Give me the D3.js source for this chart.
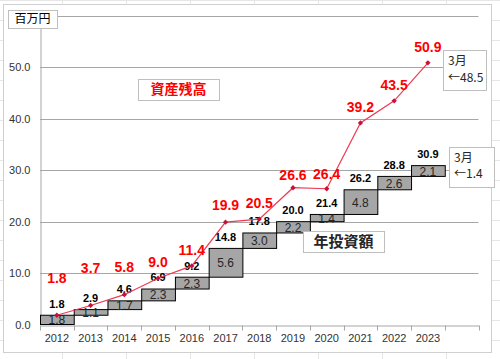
<!DOCTYPE html>
<html>
<head>
<meta charset="utf-8">
<script src="https://cdn.jsdelivr.net/npm/d3@7"></script>
<style>
  body { margin: 0; background: #fff; }
  svg { display: block; font-family: 'Liberation Sans', Arial, 'Noto Sans CJK JP', sans-serif; }
</style>
</head>
<body>
<svg id="chart" width="500" height="359"></svg>
<script>
'use strict';

// data
var years = ['2012', '2013', '2014', '2015', '2016', '2017', '2018', '2019', '2020', '2021', '2022', '2023'];
var annualInvest = [1.8, 1.1, 1.7, 2.3, 2.3, 5.6, 3.0, 2.2, 1.4, 4.8, 2.6, 2.1];
var investTotal = [1.8, 2.9, 4.6, 6.9, 9.2, 14.8, 17.8, 20.0, 21.4, 26.2, 28.8, 30.9];
var assetBalance = [1.8, 3.7, 5.8, 9.0, 11.4, 19.9, 20.5, 26.6, 26.4, 39.2, 43.5, 50.9];
var yTicks = [0, 10, 20, 30, 40, 50];
var unitLabel = '百万円';
var balanceName = '資産残高';
var investName = '年投資額';
var balanceNote = ['3月', '←48.5'];
var investNote = ['3月', '←1.4'];

var svg = d3.select('#chart');

// faint worksheet cells behind the chart
var cells = svg.append('g').style('stroke', '#e6e6e6').style('stroke-width', 1)
    .style('shape-rendering', 'crispEdges');
d3.range(-2, 500, 64).forEach(function (cx) {
    cells.append('line').attr('x1', cx + 0.5).attr('x2', cx + 0.5).attr('y1', 0).attr('y2', 359);
});
d3.range(0, 359, 20).forEach(function (cy) {
    cells.append('line').attr('x1', 0).attr('x2', 500).attr('y1', cy + 0.5).attr('y2', cy + 0.5);
});

// chart area
svg.append('rect')
    .attr('x', 3.5).attr('y', 4.5)
    .attr('width', 488).attr('height', 348)
    .style('fill', '#fff')
    .style('stroke', '#d0d0d0');

var LEFT = 40, RIGHT = 478.5, TOP = 16, BOTTOM = 324.5;

// scales: one spare empty slot after the last year
var slots = years.concat(['']);
var x = d3.scaleBand().domain(slots).range([LEFT, RIGHT]).padding(0);
var y = d3.scaleLinear().domain([0, 60]).range([BOTTOM, TOP]);
var bw = x.bandwidth();
function cx(d, i) { return x(years[i]) + bw / 2; }

// gridlines
svg.append('g')
    .selectAll('line')
    .data(d3.range(10, 61, 10))
    .enter().append('line')
    .attr('x1', LEFT).attr('x2', RIGHT)
    .attr('y1', function (d) { return Math.round(y(d)) + 0.5; })
    .attr('y2', function (d) { return Math.round(y(d)) + 0.5; })
    .style('stroke', '#a6a6a6')
    .style('stroke-width', 1);

// y axis
var yAxis = d3.axisLeft(y)
    .tickValues(yTicks)
    .tickSize(0)
    .tickPadding(10)
    .tickFormat(d3.format('.1f'));
var yAxisEl = svg.append('g')
    .attr('transform', 'translate(' + (LEFT + 0.5) + ',0)')
    .call(yAxis);
yAxisEl.select('.domain').style('stroke', '#a6a6a6');
yAxisEl.selectAll('text').style('font-size', '11px').style('fill', '#333');

// x axis
var xAxis = d3.axisBottom(x).tickSize(0).tickPadding(9);
var xAxisEl = svg.append('g')
    .attr('transform', 'translate(0,' + (Math.round(BOTTOM) + 0.5) + ')')
    .call(xAxis);
xAxisEl.select('.domain').style('stroke', '#a6a6a6');
xAxisEl.selectAll('text').style('font-size', '11px').style('fill', '#333');
xAxisEl.selectAll('.boundary')
    .data(slots.concat(['end']))
    .enter().append('line')
    .attr('class', 'boundary')
    .attr('x1', function (d, i) { return Math.round(LEFT + i * bw) + 0.5; })
    .attr('x2', function (d, i) { return Math.round(LEFT + i * bw) + 0.5; })
    .attr('y1', 0).attr('y2', 5)
    .style('stroke', '#a6a6a6');

// waterfall boxes for annual investment
var bars = svg.append('g');
bars.selectAll('rect')
    .data(annualInvest)
    .enter().append('rect')
    .attr('x', function (d, i) { return x(years[i]) + 0.5; })
    .attr('y', function (d, i) { return y(investTotal[i]); })
    .attr('width', bw)
    .attr('height', function (d, i) { return y(investTotal[i] - d) - y(investTotal[i]); })
    .style('fill', '#a6a6a6')
    .style('stroke', '#000')
    .style('stroke-width', 1);

bars.selectAll('text.inc')
    .data(annualInvest)
    .enter().append('text')
    .attr('class', 'inc')
    .attr('x', cx)
    .attr('y', function (d, i) { return y(investTotal[i] - d / 2); })
    .attr('dy', '0.38em')
    .attr('text-anchor', 'middle')
    .style('font-size', '12px')
    .style('fill', '#262626')
    .text(function (d) { return d.toFixed(1); });

bars.selectAll('text.total')
    .data(investTotal)
    .enter().append('text')
    .attr('class', 'total')
    .attr('x', cx)
    .attr('y', function (d) { return y(d) - 11.5; })
    .attr('dy', '0.35em')
    .attr('text-anchor', 'middle')
    .style('font-size', '11px')
    .style('font-weight', 'bold')
    .style('fill', '#000')
    .text(function (d) { return d.toFixed(1); });

// asset balance line
var line = d3.line()
    .x(cx)
    .y(function (d) { return y(d); });
var balance = svg.append('g');
balance.append('path')
    .datum(assetBalance)
    .attr('d', line)
    .style('fill', 'none')
    .style('stroke', '#ee3a52')
    .style('stroke-width', 1.2);
balance.selectAll('path.marker')
    .data(assetBalance)
    .enter().append('path')
    .attr('class', 'marker')
    .attr('d', d3.symbol(d3.symbolSquare, 14))
    .attr('transform', function (d, i) { return 'translate(' + cx(d, i) + ',' + y(d) + ') rotate(45)'; })
    .style('fill', '#c8103a');

// label lift above each point, early ones pushed clear of the totals
var lift = [37, 37, 28, 16, 16, 17, 16, 13, 15, 16, 16, 16];
balance.selectAll('text')
    .data(assetBalance)
    .enter().append('text')
    .attr('x', cx)
    .attr('y', function (d, i) { return y(d) - lift[i]; })
    .attr('dy', '0.35em')
    .attr('text-anchor', 'middle')
    .style('font-size', '14px')
    .style('font-weight', 'bold')
    .style('fill', '#ff0000')
    .text(function (d) { return d.toFixed(1); });

// boxed captions
function caption(lines, bx, by, w, h, opts) {
    var g = svg.append('g');
    var step = opts.step || 0;
    g.append('rect')
        .attr('x', bx + 0.5).attr('y', by + 0.5)
        .attr('width', w).attr('height', h)
        .style('fill', '#fff')
        .style('stroke', opts.stroke || '#bfbfbf');
    lines.forEach(function (t, k) {
        g.append('text')
            .attr('x', opts.center ? bx + w / 2 : bx + 5)
            .attr('y', by + opts.first + k * step)
            .attr('dy', '0.35em')
            .attr('text-anchor', opts.center ? 'middle' : 'start')
            .style('font-family', "'Noto Sans CJK JP', 'Liberation Sans', sans-serif")
            .style('font-size', opts.size)
            .style('font-weight', opts.weight || 'normal')
            .style('fill', opts.color || '#000')
            .text(t);
    });
}

caption([unitLabel], 8, 10, 49, 18, { center: true, first: 9, size: '12px' });
caption([balanceName], 138, 79, 81, 21, { center: true, first: 10.5, size: '14px', weight: 'bold', color: '#ff0000' });
caption([investName], 303, 231, 81, 21, { center: true, first: 10.5, size: '15px', weight: 'bold', color: '#262626' });
caption(balanceNote, 443, 50, 43, 40, { first: 11, step: 17, size: '12px', color: '#262626' });
caption(investNote, 449, 147, 45, 40, { first: 11, step: 16, size: '12px', color: '#262626' });
</script>
</body>
</html>
